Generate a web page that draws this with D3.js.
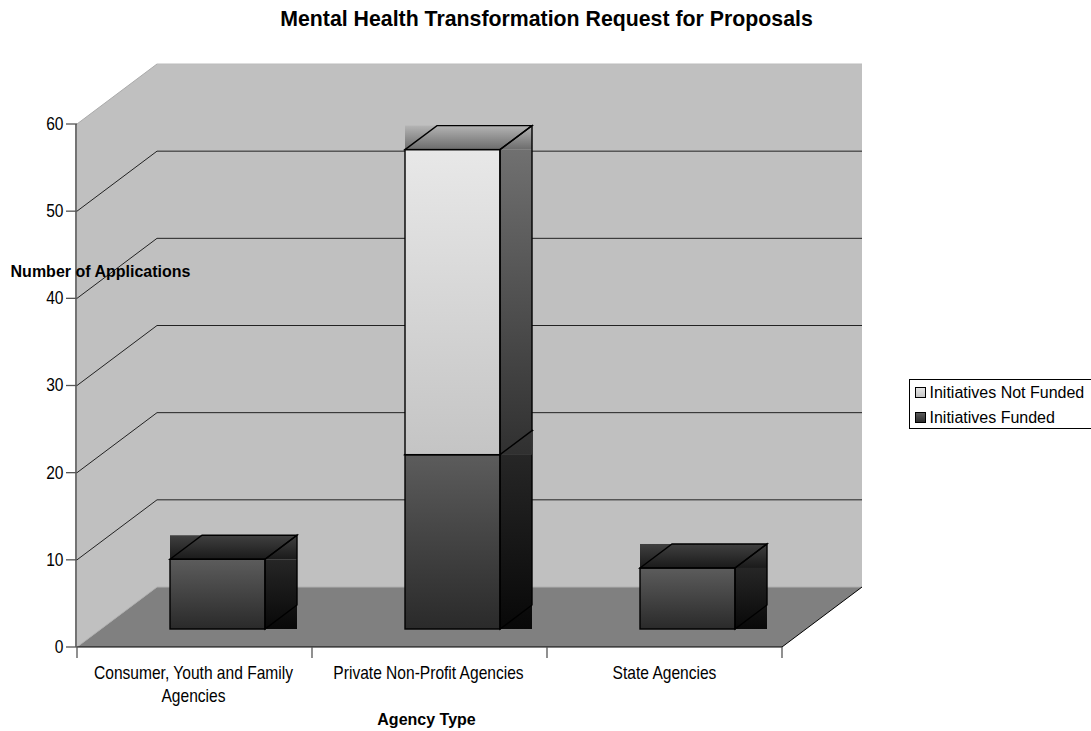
<!DOCTYPE html>
<html><head><meta charset="utf-8">
<script src="https://cdn.jsdelivr.net/npm/d3@7"></script>
<style>html,body{margin:0;padding:0;background:#fff}svg{display:block}text{font-family:"Liberation Sans",Arial,sans-serif;fill:#000}</style>
</head><body>
<script>
const categories = ["Consumer, Youth and Family Agencies", "Private Non-Profit Agencies", "State Agencies"];
const funded = [8, 20, 7];
const notFunded = [0, 35, 0];
const yTicks = [0, 10, 20, 30, 40, 50, 60];
const legendLabels = ["Initiatives Not Funded", "Initiatives Funded"];
const titleText = "Mental Health Transformation Request for Proposals";
const xTitle = "Agency Type";
const yTitle = "Number of Applications";

const W = 1091, H = 731;
const svg = d3.select("body").append("svg").attr("width", W).attr("height", H);
const defs = svg.append("defs");
function grad(id, a, b) {
  const g = defs.append("linearGradient").attr("id", id).attr("x1", 0).attr("y1", 0).attr("x2", 0).attr("y2", 1);
  g.append("stop").attr("offset", 0).attr("stop-color", a);
  g.append("stop").attr("offset", 1).attr("stop-color", b);
}
grad("fFront", "#5c5c5c", "#2a2a2a");
grad("fSide", "#262626", "#080808");
grad("fTop", "#404040", "#1a1a1a");
grad("nFront", "#e8e8e8", "#c4c4c4");
grad("nSide", "#707070", "#303030");
grad("nTop", "#b4b4b4", "#6c6c6c");

const y = d3.scaleLinear().domain([0, 60]).range([647, 124]);
const x = d3.scaleBand().domain(categories).range([77, 782]);
const wallDx = 80, wallDy = -60;
const barInset = 70, barDx = 32, barDy = -24, floorDx = 23, floorDy = -18;
const x0 = x.range()[0], x1 = x.range()[1], y0 = y(0), yTop = y(60);
const pts = a => a.map(p => p.join(",")).join(" ");

// walls and floor
svg.append("polygon").attr("points", pts([[x0+wallDx,yTop+wallDy],[x1+wallDx,yTop+wallDy],[x1+wallDx,y0+wallDy],[x0+wallDx,y0+wallDy]])).attr("fill", "#c0c0c0");
svg.append("polygon").attr("points", pts([[x0,yTop],[x0+wallDx,yTop+wallDy],[x0+wallDx,y0+wallDy],[x0,y0]])).attr("fill", "#c0c0c0");
svg.append("polygon").attr("points", pts([[x0,y0],[x1,y0],[x1+wallDx,y0+wallDy],[x0+wallDx,y0+wallDy]])).attr("fill", "#808080");
svg.append("path").attr("d", `M${x0},${y0}L${x0+wallDx},${y0+wallDy}L${x1+wallDx},${y0+wallDy}`).attr("fill", "none").attr("stroke", "#b0b0b0");
svg.append("path").attr("d", `M${x0},${y0}L${x1},${y0}L${x1+wallDx},${y0+wallDy}`).attr("fill", "none").attr("stroke", "#000");

// gridlines
yTicks.filter(t => t > 0 && t < 60).forEach(t => {
  svg.append("path").attr("d", `M${x0},${y(t)}L${x0+wallDx},${y(t)+wallDy}L${x1+wallDx},${y(t)+wallDy}`).attr("fill", "none").attr("stroke", "#222").attr("stroke-width", 1);
});
svg.append("path").attr("d", `M${x0},${yTop}L${x0+wallDx},${yTop+wallDy}`).attr("stroke", "#aaa").attr("fill", "none");
svg.append("path").attr("d", `M${x0+wallDx},${y(60)+wallDy}L${x1+wallDx},${y(60)+wallDy}`).attr("stroke", "#bbb").attr("fill", "none");

// bars
function segment(cat, from, to, key) {
  const l = x(cat) + barInset + floorDx, r = x(cat) + x.bandwidth() - barInset + floorDx;
  const b = y(from) + floorDy, t = y(to) + floorDy;
  const g = svg.append("g");
  g.append("rect").attr("x", l).attr("y", t + barDy).attr("width", r - l + barDx).attr("height", -barDy).attr("fill", `url(#${key}Top)`);
  g.append("rect").attr("x", r).attr("y", t).attr("width", barDx).attr("height", b - t).attr("fill", `url(#${key}Side)`);
  g.append("rect").attr("x", l).attr("y", t).attr("width", r - l).attr("height", b - t).attr("fill", `url(#${key}Front)`).attr("stroke", "#000").attr("stroke-width", 1.4);
  g.append("polygon").attr("points", pts([[l,t],[l+barDx,t+barDy],[r+barDx,t+barDy],[r,t]])).attr("fill", "none").attr("stroke", "#000").attr("stroke-width", 1.4);
  g.append("polygon").attr("points", pts([[r,t],[r+barDx,t+barDy],[r+barDx,b+barDy],[r,b]])).attr("fill", "none").attr("stroke", "#000").attr("stroke-width", 1.4);
}
categories.forEach((c, i) => {
  segment(c, 0, funded[i], "f");
  if (notFunded[i] > 0) segment(c, funded[i], funded[i] + notFunded[i], "n");
});

// axes
const fs = 17.5, sx = 0.89;
const yAxis = svg.append("g");
yAxis.append("line").attr("x1", x0-1).attr("x2", x0-1).attr("y1", yTop).attr("y2", y0).attr("stroke", "#444").attr("stroke-width", 1.5);
yTicks.forEach(t => {
  yAxis.append("line").attr("x1", 66).attr("x2", x0).attr("y1", y(t)).attr("y2", y(t)).attr("stroke", "#555").attr("stroke-width", 1.3);
  yAxis.append("text").attr("x", 63.5).attr("y", y(t) + 6).attr("text-anchor", "end").attr("font-size", fs)
    .attr("transform", `translate(63.5,0) scale(${sx},1) translate(-63.5,0)`).text(t);
});
[x0, x0 + x.bandwidth(), x0 + 2*x.bandwidth(), x1].forEach(v => {
  svg.append("line").attr("x1", v).attr("x2", v).attr("y1", y0).attr("y2", y0+11).attr("stroke", "#555").attr("stroke-width", 1.3);
});
const lab = (s, cx, yy) => svg.append("text").attr("x", cx).attr("y", yy).attr("text-anchor", "middle").attr("font-size", fs)
  .attr("transform", `translate(${cx},0) scale(${sx},1) translate(${-cx},0)`).text(s);
lab("Consumer, Youth and Family", 193.5, 679);
lab("Agencies", 193.5, 702);
lab(categories[1], 428.5, 679);
lab(categories[2], 664.5, 679);

// titles
svg.append("text").attr("x", 546.5).attr("y", 26).attr("text-anchor", "middle").attr("font-size", 21.3).attr("font-weight", "bold").text(titleText);
svg.append("text").attr("x", 426.5).attr("y", 725).attr("text-anchor", "middle").attr("font-size", 16).attr("font-weight", "bold").text(xTitle);
svg.append("text").attr("x", 100.5).attr("y", 277).attr("text-anchor", "middle").attr("font-size", 16).attr("font-weight", "bold").text(yTitle);

// legend
svg.append("rect").attr("x", 909.5).attr("y", 379.5).attr("width", 190).attr("height", 49).attr("fill", "#fff").attr("stroke", "#000");
legendLabels.forEach((s, i) => {
  const ly = 392.5 + i * 25;
  svg.append("rect").attr("x", 915.5).attr("y", ly - 5).attr("width", 10).attr("height", 10).attr("fill", i === 0 ? "url(#nFront)" : "url(#fFront)").attr("stroke", "#000");
  svg.append("text").attr("x", 929.5).attr("y", ly + 5.5).attr("font-size", 16).text(s);
});
</script>
</body></html>
